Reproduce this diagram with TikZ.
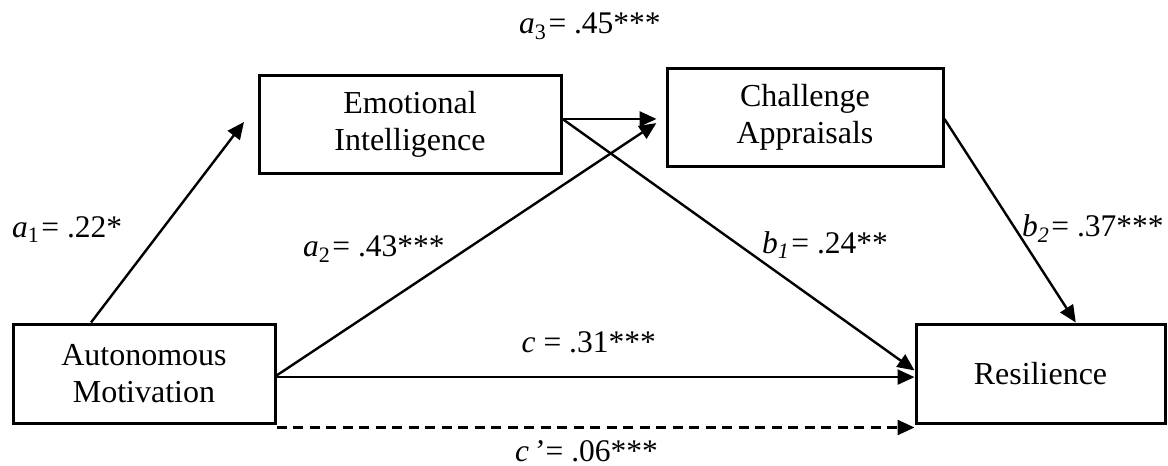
\documentclass[tikz,border=0pt]{standalone}
\usepackage{fontspec}
\setmainfont{Liberation Serif}
\usetikzlibrary{arrows.meta,calc}
\tikzset{
  box/.style={draw, line width=3pt, align=center, font=\fontsize{32}{37}\selectfont, inner sep=0pt},
  arr/.style={line width=2.4pt, -{Triangle[length=17pt,width=15pt]}},
  darr/.style={arr, dash pattern=on 10pt off 6.5pt},
  lbl/.style={font=\fontsize{31.5}{36}\selectfont, inner sep=0pt},
}
\begin{document}
\begin{tikzpicture}[x=1pt,y=-1pt]
\useasboundingbox (0,0) rectangle (1168,466);
\node[box, minimum width=262pt, minimum height=99pt] (AM) at (144,373.5) {Autonomous\\Motivation};
\node[box, minimum width=302pt, minimum height=98pt] (EI) at (410,124) {Emotional\\Intelligence};
\node[box, minimum width=276pt, minimum height=98pt] (CA) at (805,117) {Challenge\\Appraisals};
\node[box, minimum width=249pt, minimum height=99pt] (RS) at (1040.5,373.5) {Resilience};

\coordinate (AMtop) at ($(AM.north west)!0.30!(AM.north east)$);
\coordinate (a1end) at (244,122);
\coordinate (EIr) at ($(EI.north east)!0.45!(EI.south east)$);
\coordinate (AMr) at ($(AM.north east)!0.52!(AM.south east)$);
\coordinate (AMc) at ($(AM.north east)!0.535!(AM.south east)$);
\coordinate (AMd) at ($(AM.south east)+(0,3)$);
\coordinate (RSb1) at ($(RS.north west)!0.47!(RS.south west)$);
\coordinate (RStop) at ($(RS.north west)!0.64!(RS.north east)$);

\draw[arr] (AMtop) -- (a1end);
\draw[arr, shorten >=9pt] (EIr) -- (EIr -| CA.west);
\draw[arr, shorten >=11pt] (AMr) -- (CA.west);
\draw[arr] (EIr) -- (RSb1);
\draw[arr] ($(CA.north east)!0.52!(CA.south east)$) -- (RStop);
\draw[arr] (AMc) -- (AMc -| RS.west);
\draw[darr] (AMd) -- (AMd -| RS.west);

\node[lbl, anchor=base] (la3) at (590,33) {\textit{a}\textsubscript{3}\kern2pt= .45***};
\node[lbl, anchor=base west] (la1) at (12,237) {\textit{a}\textsubscript{1}\kern2pt= .22*};
\node[lbl, anchor=base west] (la2) at (303,256) {\textit{a}\textsubscript{2}\kern2pt= .43***};
\node[lbl, anchor=base west] (lb1) at (762,253) {\textit{b}\textsubscript{\textit{1}}\kern2pt= .24**};
\node[lbl, anchor=base west] (lb2) at (1022,236) {\textit{b}\textsubscript{\textit{2}}\kern2pt= .37***};
\node[lbl, anchor=base east] (lc) at (656,352) {\textit{c} = .31***};
\node[lbl, anchor=base west] (lcp) at (515,461) {\textit{c}\kern4pt\textit{’}\kern2pt= .06***};
\end{tikzpicture}
\end{document}
